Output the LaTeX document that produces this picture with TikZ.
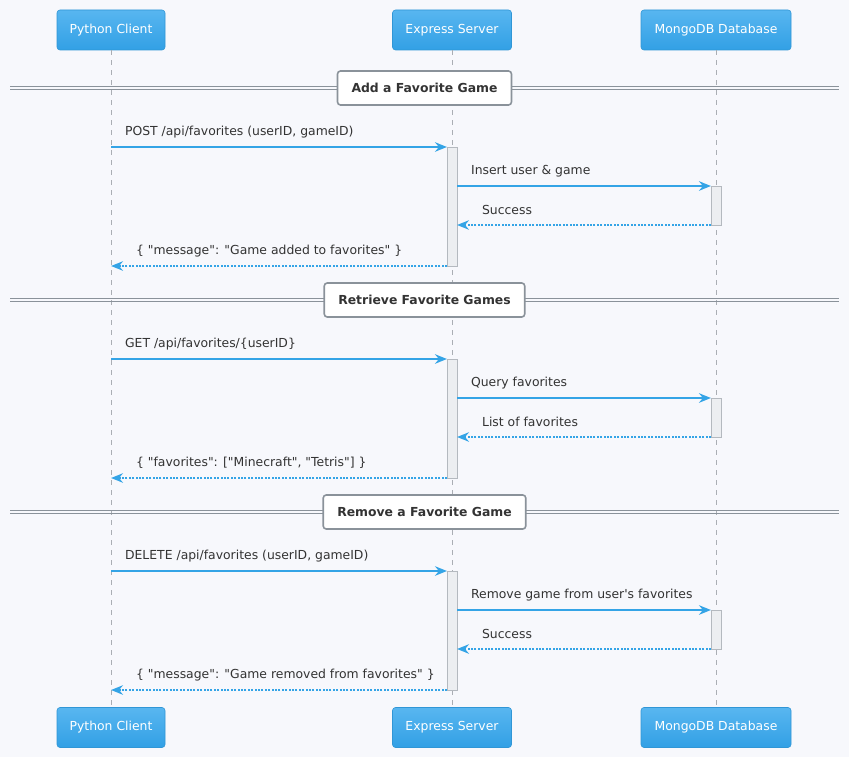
\documentclass[tikz,border=0pt]{standalone}
\usepackage{fontspec}
\setmainfont{DejaVu Sans}
\usetikzlibrary{arrows.meta,positioning}

\definecolor{bgpage}{RGB}{247,248,252}
\definecolor{parttop}{RGB}{88,182,240}
\definecolor{partbot}{RGB}{50,160,229}
\definecolor{partedge}{RGB}{48,150,214}
\definecolor{msgblue}{RGB}{52,164,230}
\definecolor{sepgray}{RGB}{138,146,154}
\definecolor{actfill}{RGB}{236,238,241}
\definecolor{actedge}{RGB}{180,185,191}
\definecolor{lifegray}{RGB}{170,174,180}
\definecolor{txtgray}{RGB}{51,51,51}

% straight quote marks, untouched by font mapping
\newcommand{\dq}{\textquotedbl}

\begin{document}
\begin{tikzpicture}[
	x=1pt, y=-1pt,
	font=\fontsize{12.4}{15}\selectfont,
	participant/.style = {draw=partedge, top color=parttop, bottom color=partbot, rounded corners=3pt, text=white, minimum height=40pt, line width=0.6pt},
	separator/.style   = {draw=sepgray, fill=white, line width=1.6pt, rounded corners=3pt, minimum height=34pt, inner xsep=14pt, text=txtgray, font=\fontsize{12.4}{15}\selectfont\bfseries},
	sepline/.style     = {draw=sepgray, line width=1pt},
	lifeline/.style    = {draw=lifegray, line width=0.8pt, dash pattern=on 5pt off 5pt},
	actbar/.style      = {draw=actedge, fill=actfill, minimum width=10pt, inner sep=0pt, outer sep=0pt, line width=0.8pt},
	call/.style        = {draw=msgblue, line width=2.2pt, -{Stealth[length=12pt,width=9.5pt,inset=4pt]}},
	reply/.style       = {call, dash pattern=on 2pt off 1.4pt},
	msg/.style         = {text=txtgray, anchor=west, inner sep=0pt, yshift=15pt}]

	% page background
	\path[fill=bgpage, use as bounding box] (0,0) rectangle (849,757);

	% participants, top and bottom, with their lifelines
	\foreach \nm/\x/\bw/\txt in {py/111/108/Python Client, srv/452/119/Express Server, db/716/150/MongoDB Database} {
		\node[participant, minimum width=\bw pt] (\nm Top) at (\x,30) {\txt};
		\node[participant, minimum width=\bw pt] (\nm Bot) at (\x,727.5) {\txt};
		\draw[lifeline] (\nm Top.south) -- (\nm Bot.north);
	}

	% section dividers
	\foreach \y/\nm/\txt in {88/sepAdd/Add a Favorite Game, 300/sepGet/Retrieve Favorite Games, 512/sepDel/Remove a Favorite Game} {
		\draw[sepline] (10,\y-1.3) -- (839,\y-1.3);
		\draw[sepline] (10,\y+1.7) -- (839,\y+1.7);
		\node[separator] (\nm) at (424.5,\y) {\txt};
	}

	% activation bars
	\foreach \s/\dy in {A/0, B/212, C/424} {
		\node[actbar, minimum height=119pt] (actSrv\s) at (452,206.5+\dy) {};
		\node[actbar, minimum height=39pt] (actDb\s) at (716,205.5+\dy) {};
	}

	% add a favorite game
	\draw[call] (pyTop.south |- actSrvA.north) -- node[msg, pos=0, xshift=13pt] {POST /api/favorites (userID, gameID)} (actSrvA.north west);
	\draw[call] (actSrvA.east |- actDbA.north) -- node[msg, pos=0, xshift=13pt] {Insert user \& game} (actDbA.north west);
	\draw[reply] (actDbA.south west) -- node[msg, pos=1, xshift=24pt] {Success} (actSrvA.east |- actDbA.south);
	\draw[reply] (actSrvA.south west) -- node[msg, pos=1, xshift=24pt] {\{ \dq message\dq: \dq Game added to favorites\dq\ \}} (pyTop.south |- actSrvA.south);

	% retrieve favorite games
	\draw[call] (pyTop.south |- actSrvB.north) -- node[msg, pos=0, xshift=13pt] {GET /api/favorites/\{userID\}} (actSrvB.north west);
	\draw[call] (actSrvB.east |- actDbB.north) -- node[msg, pos=0, xshift=13pt] {Query favorites} (actDbB.north west);
	\draw[reply] (actDbB.south west) -- node[msg, pos=1, xshift=24pt] {List of favorites} (actSrvB.east |- actDbB.south);
	\draw[reply] (actSrvB.south west) -- node[msg, pos=1, xshift=24pt] {\{ \dq favorites\dq: [\dq Minecraft\dq, \dq Tetris\dq] \}} (pyTop.south |- actSrvB.south);

	% remove a favorite game
	\draw[call] (pyTop.south |- actSrvC.north) -- node[msg, pos=0, xshift=13pt] {DELETE /api/favorites (userID, gameID)} (actSrvC.north west);
	\draw[call] (actSrvC.east |- actDbC.north) -- node[msg, pos=0, xshift=13pt] {Remove game from user\textquotesingle s favorites} (actDbC.north west);
	\draw[reply] (actDbC.south west) -- node[msg, pos=1, xshift=24pt] {Success} (actSrvC.east |- actDbC.south);
	\draw[reply] (actSrvC.south west) -- node[msg, pos=1, xshift=24pt] {\{ \dq message\dq: \dq Game removed from favorites\dq\ \}} (pyTop.south |- actSrvC.south);

\end{tikzpicture}
\end{document}
